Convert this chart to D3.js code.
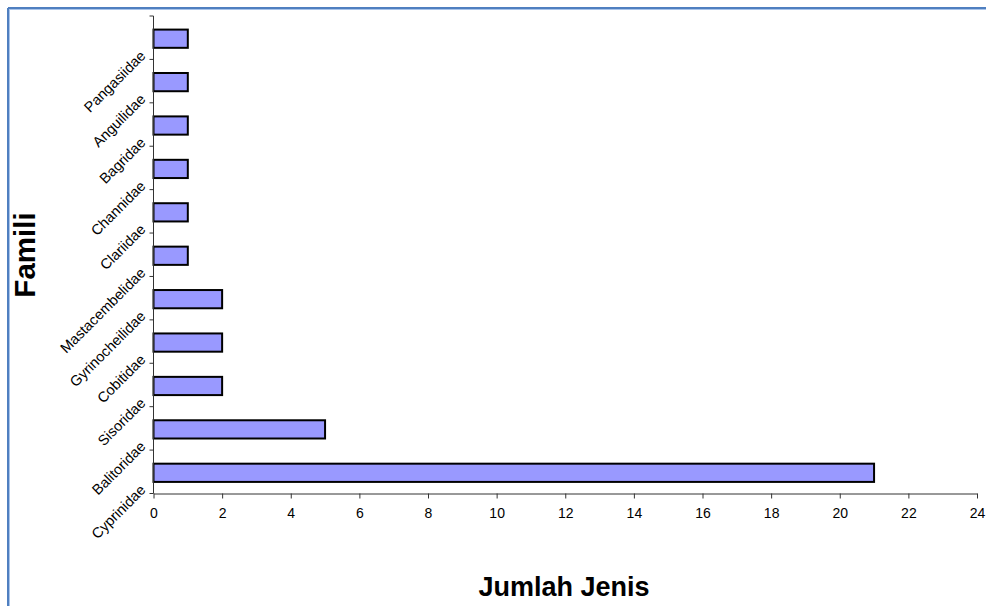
<!DOCTYPE html>
<html>
<head>
<meta charset="utf-8">
<script src="https://cdn.jsdelivr.net/npm/d3@7"></script>
<style>
  body { margin: 0; background: #fff; }
  text { font-family: "Liberation Sans", Arial, sans-serif; }
</style>
</head>
<body>
<div id="chart-area"></div>
<script>
// families, bottom to top as drawn
var families = ["Cyprinidae", "Balitoridae", "Sisoridae", "Cobitidae", "Gyrinocheilidae",
  "Mastacembelidae", "Clariidae", "Channidae", "Bagridae", "Anguilidae", "Pangasiidae"];
var jumlah = [21, 5, 2, 2, 2, 1, 1, 1, 1, 1, 1];
var xTicks = [0, 2, 4, 6, 8, 10, 12, 14, 16, 18, 20, 22, 24];

var width = 986, height = 606;
var plotLeft = 153.5, plotRight = 977, plotTop = 16, plotBottom = 493.5;

var data = families.map((f, i) => { return {name: f, value: jumlah[i]}; });

var svg = d3.select("#chart-area").append("svg")
  .attr("width", width)
  .attr("height", height);

// chart frame (only top and left edges visible)
svg.append("line").attr("x1", 8).attr("x2", width).attr("y1", 8).attr("y2", 8)
  .attr("stroke", "#4f7fc0").attr("stroke-width", 2);
svg.append("line").attr("x1", 8).attr("x2", width).attr("y1", 9.5).attr("y2", 9.5)
  .attr("stroke", "#a9c4ea").attr("stroke-width", 1);
svg.append("line").attr("x1", 8).attr("x2", 8).attr("y1", 8).attr("y2", height)
  .attr("stroke", "#4f7fc0").attr("stroke-width", 2);
svg.append("line").attr("x1", 9.5).attr("x2", 9.5).attr("y1", 9).attr("y2", height)
  .attr("stroke", "#a9c4ea").attr("stroke-width", 1);

var x = d3.scaleLinear().domain([0, 24]).range([plotLeft, plotRight]);

var y = d3.scaleBand()
  .domain(families.slice().reverse())
  .range([plotTop, plotBottom])
  .paddingInner(0)
  .paddingOuter(0);

var barPad = 0.29;

svg.selectAll("rect.bar")
  .data(data)
  .enter()
  .append("rect")
  .attr("class", "bar")
  .attr("x", x(0))
  .attr("y", (d) => { return y(d.name) + y.bandwidth() * barPad + 1; })
  .attr("width", (d) => { return x(d.value) - x(0); })
  .attr("height", y.bandwidth() * (1 - 2 * barPad))
  .attr("fill", "#9999ff")
  .attr("stroke", "#000")
  .attr("stroke-width", 2);

// x axis
var xAxis = svg.append("g")
  .attr("transform", "translate(0," + plotBottom + ")")
  .call(d3.axisBottom(x).tickValues(xTicks).tickSize(5).tickSizeOuter(0));
xAxis.select(".domain").attr("stroke", "#333");
xAxis.selectAll(".tick line").attr("stroke", "#333");
xAxis.selectAll(".tick text")
  .style("font-size", "14px")
  .style("font-family", "'Liberation Sans', Arial, sans-serif")
  .attr("fill", "#000")
  .attr("dy", "1.2em");

// y axis: ticks between categories
var yEdges = y.domain().map((d) => { return y(d); }).concat([plotBottom]);
svg.append("line")
  .attr("x1", plotLeft).attr("x2", plotLeft).attr("y1", plotTop).attr("y2", plotBottom)
  .attr("stroke", "#333");
svg.selectAll("line.ytick")
  .data(yEdges)
  .enter()
  .append("line")
  .attr("class", "ytick")
  .attr("x1", plotLeft - 4).attr("x2", plotLeft)
  .attr("y1", (d) => { return d; }).attr("y2", (d) => { return d; })
  .attr("stroke", "#333");

svg.selectAll("text.ylabel")
  .data(families)
  .enter()
  .append("text")
  .attr("class", "ylabel")
  .style("font-size", "14.5px")
  .attr("text-anchor", "end")
  .attr("transform", (d) => {
    return "translate(" + (plotLeft - 7) + "," + (y(d) + y.bandwidth() / 2 + 19) + ") rotate(-45)";
  })
  .text((d) => { return d; });

// axis titles
svg.append("text")
  .style("font-size", "29.5px")
  .attr("font-weight", "bold")
  .attr("text-anchor", "middle")
  .attr("transform", "translate(34.5,255) rotate(-90)")
  .text("Famili");

svg.append("text")
  .style("font-size", "27px")
  .attr("font-weight", "bold")
  .attr("text-anchor", "middle")
  .attr("x", 564)
  .attr("y", 596)
  .text("Jumlah Jenis");
</script>
</body>
</html>
